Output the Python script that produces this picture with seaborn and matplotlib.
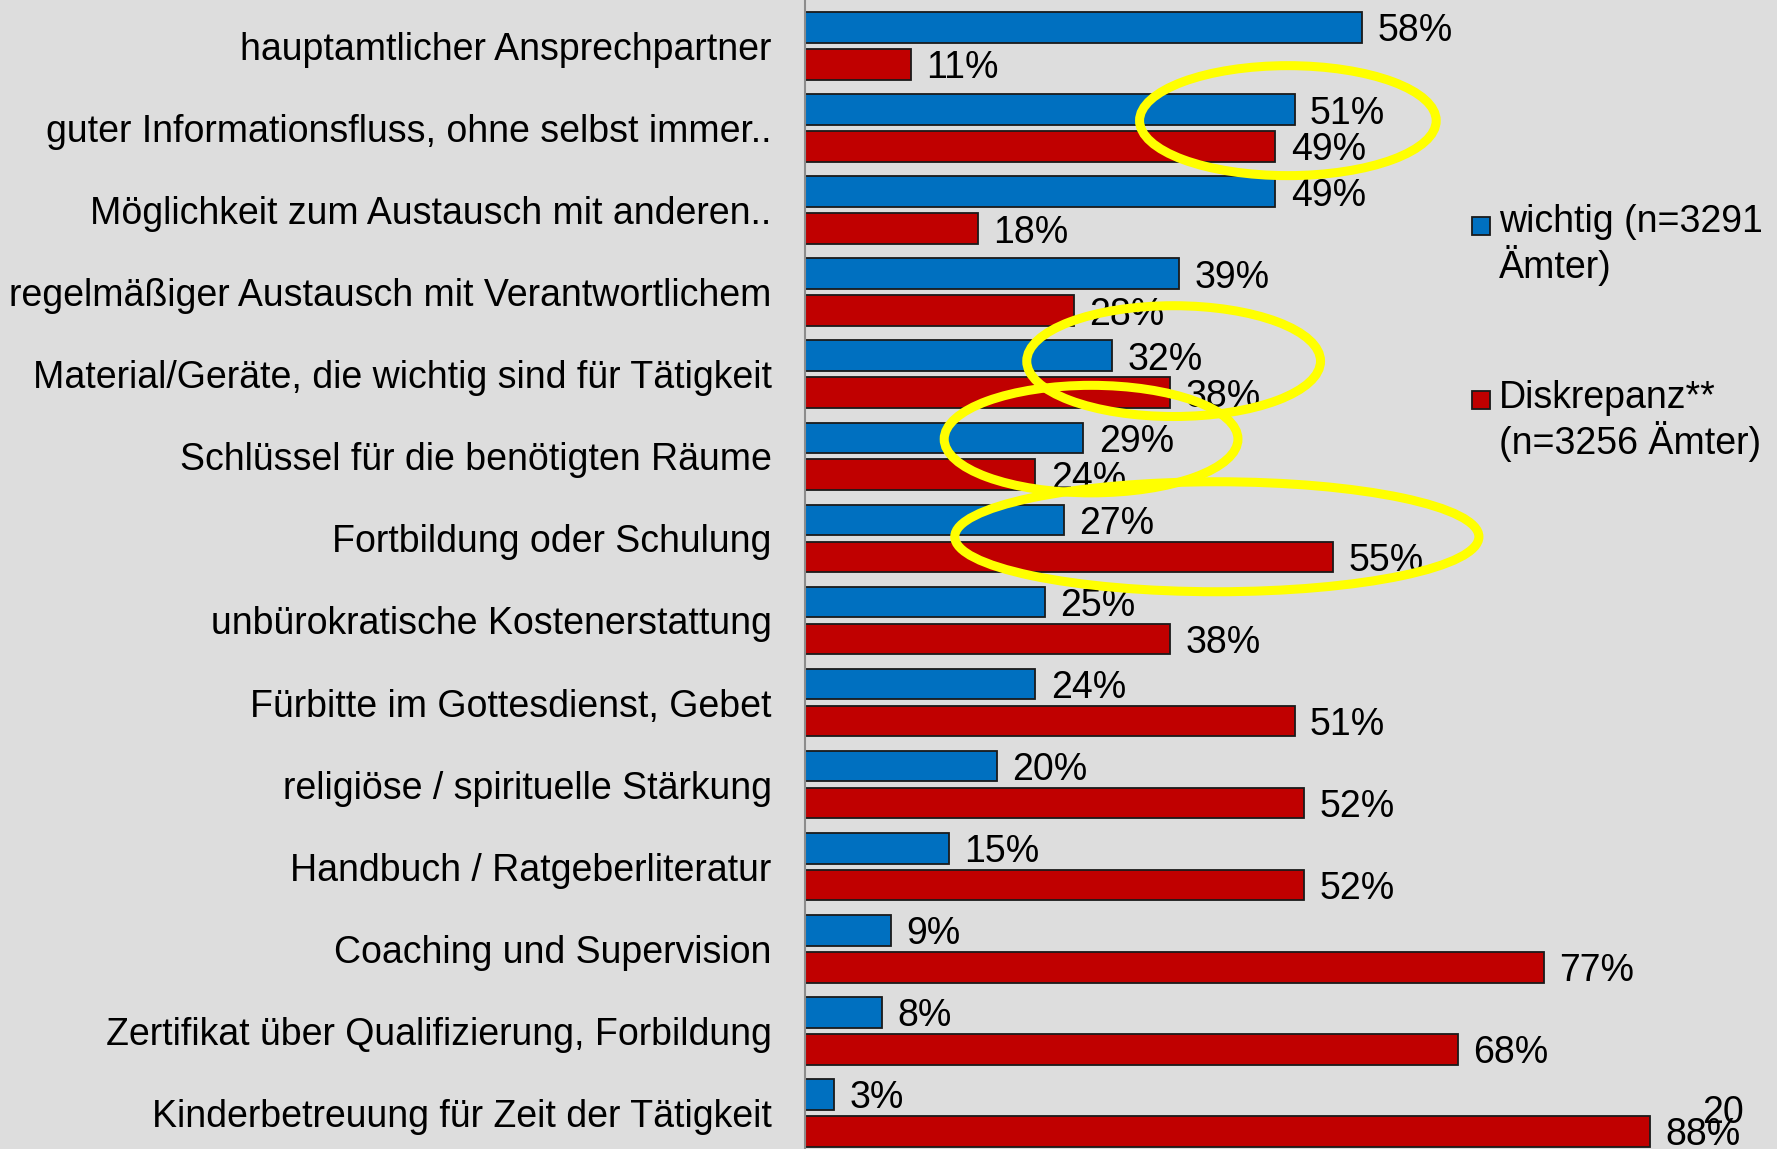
import pandas as pd
import matplotlib.pyplot as plt
import seaborn as sns
from matplotlib.patches import Ellipse, Rectangle

categories = [
    "hauptamtlicher Ansprechpartner",
    "guter Informationsfluss, ohne selbst immer..",
    "Möglichkeit zum Austausch mit anderen..",
    "regelmäßiger Austausch mit Verantwortlichem",
    "Material/Geräte, die wichtig sind für Tätigkeit",
    "Schlüssel für die benötigten Räume",
    "Fortbildung oder Schulung",
    "unbürokratische Kostenerstattung",
    "Fürbitte im Gottesdienst, Gebet",
    "religiöse / spirituelle Stärkung",
    "Handbuch / Ratgeberliteratur",
    "Coaching und Supervision",
    "Zertifikat über Qualifizierung, Forbildung",
    "Kinderbetreuung für Zeit der Tätigkeit",
]
wichtig = [58, 51, 49, 39, 32, 29, 27, 25, 24, 20, 15, 9, 8, 3]
diskrepanz = [11, 49, 18, 28, 38, 24, 55, 38, 51, 52, 52, 77, 68, 88]
series_names = ["wichtig (n=3291\nÄmter)", "Diskrepanz**\n(n=3256 Ämter)"]
page_number = "20"

colors = ["#0070C0", "#C00000"]
bg = "#dddddd"

# long format for seaborn
df = pd.DataFrame({
    "Kategorie": categories * 2,
    "Anteil": wichtig + diskrepanz,
    "Serie": [series_names[0]] * len(categories) + [series_names[1]] * len(categories),
})

sns.set_style("white")
plt.rcParams["font.family"] = ["Liberation Sans", "DejaVu Sans"]
plt.rcParams["text.color"] = "black"
plt.rcParams["ytick.color"] = "black"

fig = plt.figure(figsize=(17.77, 11.49), dpi=100, facecolor=bg)
ax = fig.add_axes([805 / 1777, 0.0, 960 / 1777, 1.0])
ax.set_facecolor(bg)

sns.barplot(data=df, y="Kategorie", x="Anteil", hue="Serie", orient="h",
            palette=colors, saturation=1, width=0.9, gap=0.17,
            edgecolor="#1a1a1a", linewidth=1.3, legend=False, ax=ax)

for cont in ax.containers:
    labels = ax.bar_label(cont, fmt="%.0f%%", padding=11, fontsize=27, color="black")
    for t in labels:
        t.set_va("center_baseline")

ax.set_xlim(0, 100)
ax.set_ylim(13.44, -0.56)
ax.set_xlabel("")
ax.set_ylabel("")
ax.set_xticks([])
ax.tick_params(axis="y", length=0, pad=24, labelsize=27, labelcolor="black")
for s in ["top", "right", "bottom"]:
    ax.spines[s].set_visible(False)
ax.spines["left"].set_color("#8c8c8c")
ax.spines["left"].set_linewidth(1.5)

# yellow highlight ellipses (data coords)
highlights = [(50.3, 0.91, 30.9, 1.34), (38.4, 3.84, 30.6, 1.35),
              (29.8, 4.79, 30.6, 1.31), (42.9, 5.98, 54.6, 1.34)]
for cx, cy, w, h in highlights:
    ax.add_patch(Ellipse((cx, cy), w, h, fill=False, edgecolor="#FFFF00",
                         linewidth=6.5, zorder=10, clip_on=False))

# manual legend
W, H = 1777, 1149
for (sq_y, txt_y), name, col in zip([(226, 245), (400, 421)], series_names, colors):
    fig.patches.append(Rectangle((1472 / W, 1 - (sq_y + 9) / H), 18 / W, 18 / H,
                                 transform=fig.transFigure, facecolor=col,
                                 edgecolor="#1a1a1a", linewidth=1.3))
    fig.text(1499 / W, 1 - txt_y / H, name, fontsize=27, va="center", ha="left",
             linespacing=1.15)

fig.text(1723 / W, 1 - 1113 / H, page_number, fontsize=27, ha="center", va="center")

fig.savefig("out.png", dpi=100, facecolor=bg)
